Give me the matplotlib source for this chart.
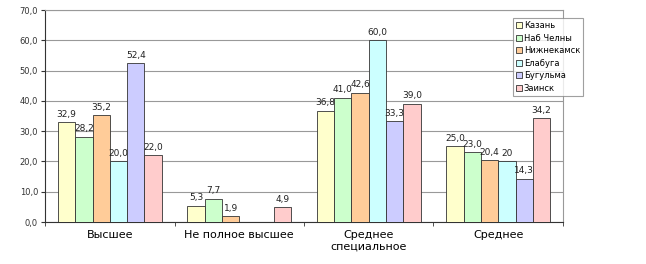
import matplotlib.pyplot as plt
import numpy as np

categories = ["Высшее", "Не полное высшее", "Среднее\nспециальное", "Среднее"]
cities = ["Казань", "Наб Челны", "Нижнекамск", "Елабуга", "Бугульма", "Заинск"]
colors = ["#FFFFCC", "#CCFFCC", "#FFCC99", "#CCFFFF", "#CCCCFF", "#FFCCCC"]

kazan = [32.9, 5.3, 36.8, 25.0]
chelny = [28.2, 7.7, 41.0, 23.0]
nizhnekamsk = [35.2, 1.9, 42.6, 20.4]
elabuga = [20.0, np.nan, 60.0, 20.0]
bugulma = [52.4, np.nan, 33.3, 14.3]
zainsk = [22.0, 4.9, 39.0, 34.2]
series = [kazan, chelny, nizhnekamsk, elabuga, bugulma, zainsk]

# Excel shows this one without decimals
label_override = {(3, 3): "20"}

fig = plt.figure(figsize=(6.46, 2.64), dpi=100)
ax = fig.add_axes([0.0697, 0.159, 0.8018, 0.803])

x = np.arange(len(categories))
n = len(series)
w = 0.8 / n
for i, (vals, c, name) in enumerate(zip(series, colors, cities)):
    pos = x - 0.4 + w * (i + 0.5)
    ax.bar(pos, vals, width=w, color=c, edgecolor="#333333", linewidth=0.6,
           label=name, zorder=3)
    for j, v in enumerate(vals):
        if np.isnan(v):
            continue
        txt = label_override.get((i, j), f"{v:.1f}".replace(".", ","))
        ax.text(pos[j], v + 1.2, txt, ha="center", va="bottom", fontsize=6.5,
                color="#222222", zorder=4)

ax.set_xlim(-0.5, len(categories) - 0.5)
ax.set_ylim(0, 70)
ax.set_yticks(np.arange(0, 71, 10))
ax.set_yticklabels([f"{t:.1f}".replace(".", ",") for t in np.arange(0, 71, 10)],
                   fontsize=6, color="#333333")
ax.set_xticks(x)
ax.set_xticklabels(categories, fontsize=8)
ax.set_xticks(np.arange(-0.5, len(categories)), minor=True)
ax.tick_params(axis="x", which="major", length=0, pad=6)
ax.tick_params(axis="x", which="minor", length=3, color="#333333")
ax.tick_params(axis="y", length=3, color="#333333", pad=2)

ax.yaxis.grid(True, color="#999999", linewidth=0.8, zorder=0)
ax.spines["top"].set_color("#999999")
ax.spines["right"].set_color("#999999")
ax.spines["left"].set_color("#333333")
ax.spines["bottom"].set_color("#333333")

leg = fig.legend(loc="upper left", bbox_to_anchor=(0.794, 0.932), fontsize=6,
                 frameon=True, fancybox=False, handlelength=0.7, handleheight=0.7,
                 handletextpad=0.2, borderpad=0.4, labelspacing=0.42,
                 borderaxespad=0)
leg.get_frame().set_edgecolor("#888888")
leg.get_frame().set_linewidth(0.8)

fig.savefig("out.png", dpi=100)
